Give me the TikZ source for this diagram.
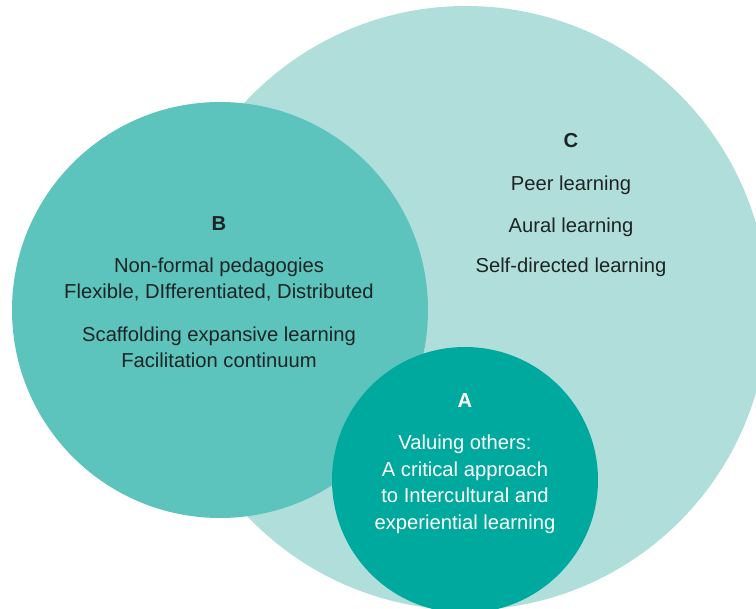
\documentclass[tikz,border=0pt]{standalone}
\usepackage{fontspec}
\setmainfont{Liberation Sans}
\definecolor{cC}{HTML}{B0DFDB}
\definecolor{cB}{HTML}{5CC4BC}
\definecolor{cA}{HTML}{00A99D}
\definecolor{ink}{HTML}{1E2424}
\begin{document}
\begin{tikzpicture}[x=1pt,y=-1pt,
  txt/.style={anchor=mid,inner sep=0pt,font=\fontsize{20.2}{24}\selectfont,text=ink},
  ttl/.style={txt,font=\fontsize{20.2}{24}\selectfont\bfseries},
  wtxt/.style={txt,text=white},
  wttl/.style={ttl,text=white}]
\useasboundingbox (0,0) rectangle (756,609);
\clip (0,0) rectangle (756,609);
\fill[cC] (466,308) circle[radius=302];
\fill[cB] (220,310) circle[radius=208];
\fill[cA] (465,480) circle[radius=133];
% C
\node[ttl] (ct) at (571,145) {C};
\node[txt] (c1) at (571,188) {Peer learning};
\node[txt] (c2) at (571,230) {Aural learning};
\node[txt] (c3) at (571,270) {Self-directed learning};
% B
\node[ttl] (bt) at (219,228) {B};
\node[txt] (b1) at (219,270) {Non-formal pedagogies};
\node[txt] (b2) at (219,296) {Flexible, DIfferentiated, Distributed};
\node[txt] (b3) at (219,339) {Scaffolding expansive learning};
\node[txt] (b4) at (219,365) {Facilitation continuum};
% A
\node[wttl] (at) at (465,405) {A};
\node[wtxt] (a1) at (465,447) {Valuing others:};
\node[wtxt] (a2) at (465,474) {A critical approach};
\node[wtxt] (a3) at (465,500) {to Intercultural and};
\node[wtxt] (a4) at (465,527) {experiential learning};
\end{tikzpicture}
\end{document}
